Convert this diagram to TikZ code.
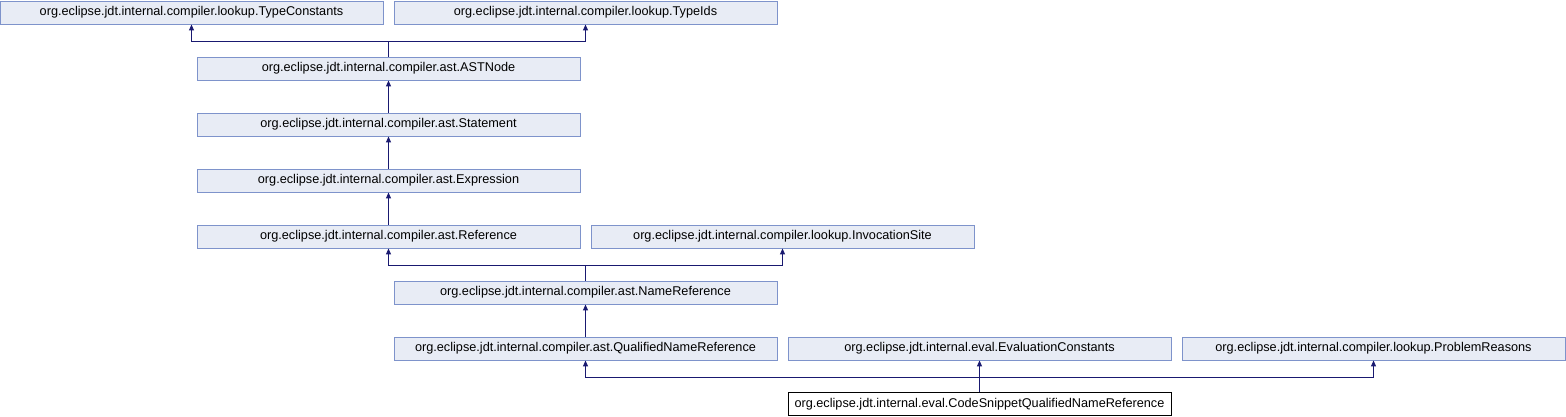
\documentclass[tikz,border=0pt]{standalone}
\usepackage{fontspec}
\setmainfont{Liberation Sans}
\usetikzlibrary{arrows.meta}
\definecolor{nodeborder}{HTML}{7E93CB}
\definecolor{nodefill}{HTML}{E8ECF5}
\definecolor{edgecol}{HTML}{191970}
\tikzset{
  cls/.style={draw=nodeborder, fill=nodefill, line width=0.9pt, minimum width=383pt, minimum height=23pt, inner sep=0pt, font=\fontsize{12.7}{15}\selectfont, text=black},
  focus/.style={draw=black, fill=white, line width=0.9pt, minimum width=383pt, minimum height=23pt, inner sep=0pt, font=\fontsize{12.7}{15}\selectfont, text=black},
  edge/.style={draw=edgecol, line width=1pt, -{Triangle[length=6pt,width=5pt]}},
  plain/.style={draw=edgecol, line width=1pt}
}
\begin{document}
\begin{tikzpicture}[x=1pt,y=-1pt]
\useasboundingbox (0,0) rectangle (1566,416);
\node[cls] (TC) at (191.5,12.5) {org.eclipse.jdt.internal.compiler.lookup.TypeConstants};
\node[cls] (TI) at (585.5,12.5) {org.eclipse.jdt.internal.compiler.lookup.TypeIds};
\node[cls] (AST) at (388.5,68.5) {org.eclipse.jdt.internal.compiler.ast.ASTNode};
\node[cls] (ST) at (388.5,124.5) {org.eclipse.jdt.internal.compiler.ast.Statement};
\node[cls] (EX) at (388.5,180.5) {org.eclipse.jdt.internal.compiler.ast.Expression};
\node[cls] (RF) at (388.5,236.5) {org.eclipse.jdt.internal.compiler.ast.Reference};
\node[cls] (IS) at (782.5,236.5) {org.eclipse.jdt.internal.compiler.lookup.InvocationSite};
\node[cls] (NR) at (585.5,292.5) {org.eclipse.jdt.internal.compiler.ast.NameReference};
\node[cls] (QNR) at (585.5,348.5) {org.eclipse.jdt.internal.compiler.ast.QualifiedNameReference};
\node[cls] (EC) at (979.5,348.5) {org.eclipse.jdt.internal.eval.EvaluationConstants};
\node[cls] (PR) at (1373.5,348.5) {org.eclipse.jdt.internal.compiler.lookup.ProblemReasons};
\node[focus] (CS) at (979.5,404) {org.eclipse.jdt.internal.eval.CodeSnippetQualifiedNameReference};
\coordinate (j1) at (388.5,41);
\coordinate (j2) at (585.5,265);
\coordinate (j3) at (979.5,377);
\draw[plain] (AST.north) -- (j1);
\draw[edge] (j1) -| (TC.south);
\draw[edge] (j1) -| (TI.south);
\draw[edge] (ST.north) -- (AST.south);
\draw[edge] (EX.north) -- (ST.south);
\draw[edge] (RF.north) -- (EX.south);
\draw[plain] (NR.north) -- (j2);
\draw[edge] (j2) -| (RF.south);
\draw[edge] (j2) -| (IS.south);
\draw[edge] (QNR.north) -- (NR.south);
\draw[plain] (CS.north) -- (j3);
\draw[edge] (j3) -| (QNR.south);
\draw[edge] (j3) -- (EC.south);
\draw[edge] (j3) -| (PR.south);
\end{tikzpicture}
\end{document}
